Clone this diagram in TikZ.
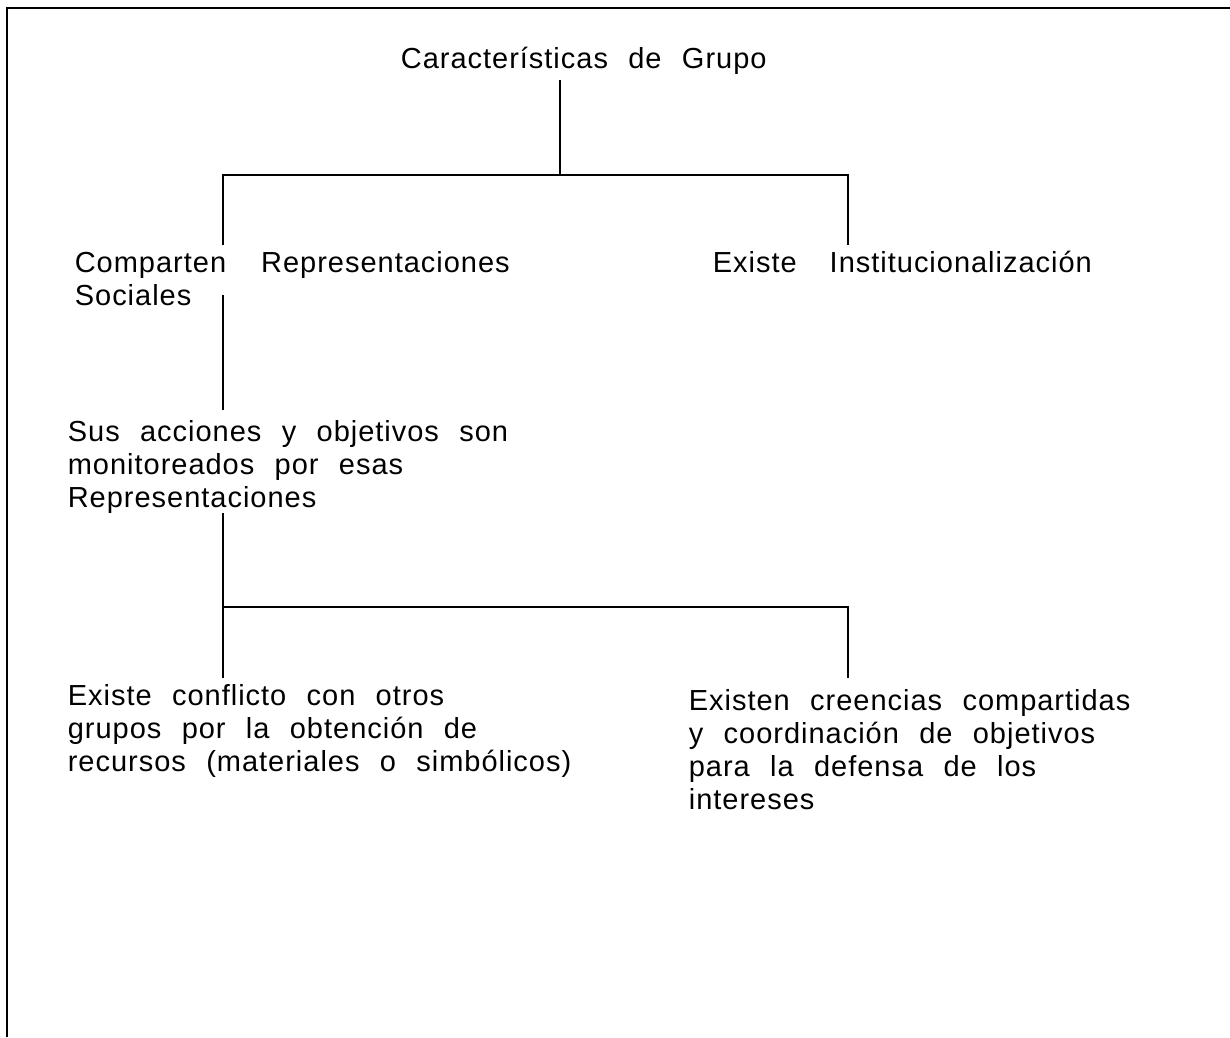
\documentclass[tikz,border=0pt]{standalone}
\usepackage{fontspec}
\setmainfont{Liberation Sans}[LetterSpace=3.4,WordSpace=2.25]
\usetikzlibrary{positioning}

\begin{document}
\begin{tikzpicture}[x=1pt,y=-1pt,line width=1.7pt,
  txt/.style={anchor=base west,inner sep=0pt,align=left,font=\fontsize{29}{33}\selectfont}]
\useasboundingbox (0,0) rectangle (1230,1037);
% marco
\draw (7,1037) -- (7,8) -- (1230,8);

% textos (base = ultima linea)
\node[txt] (grupo) at (400,68) {Características de Grupo};
\node[txt] (comparten) at (74,305) {Comparten\hspace{35pt}Representaciones\\Sociales};
\node[txt] (institucion) at (712,272) {Existe\hspace{33pt}Institucionalización};
\node[txt] (acciones) at (67,507) {Sus acciones y objetivos son\\monitoreados por esas\\Representaciones};
\node[txt] (conflicto) at (67,771) {Existe conflicto con otros\\grupos por la obtención de\\recursos (materiales o simbólicos)};
\node[txt] (creencias) at (688,809) {Existen creencias compartidas\\y coordinación de objetivos\\para la defensa de los\\intereses};

% primer nivel
\coordinate (g1) at (560,80);
\coordinate (g2) at (560,175);
\coordinate (g3) at (223,175);
\coordinate (g4) at (848,175);
\coordinate (g5) at (223,245);
\coordinate (g6) at (848,245);
\draw (g1) -- (g2);
\draw (g5) -- (g3) -- (g4) -- (g6);

% de comparten a acciones
\coordinate (c1) at (223,295);
\coordinate (c2) at (223,410);
\draw (c1) -- (c2);

% segundo nivel
\coordinate (a1) at (223,513);
\coordinate (a2) at (223,607);
\coordinate (a3) at (848,607);
\coordinate (a4) at (223,678);
\coordinate (a5) at (848,678);
\draw (a1) -- (a4);
\draw (a2) -- (a3) -- (a5);
\end{tikzpicture}
\end{document}
